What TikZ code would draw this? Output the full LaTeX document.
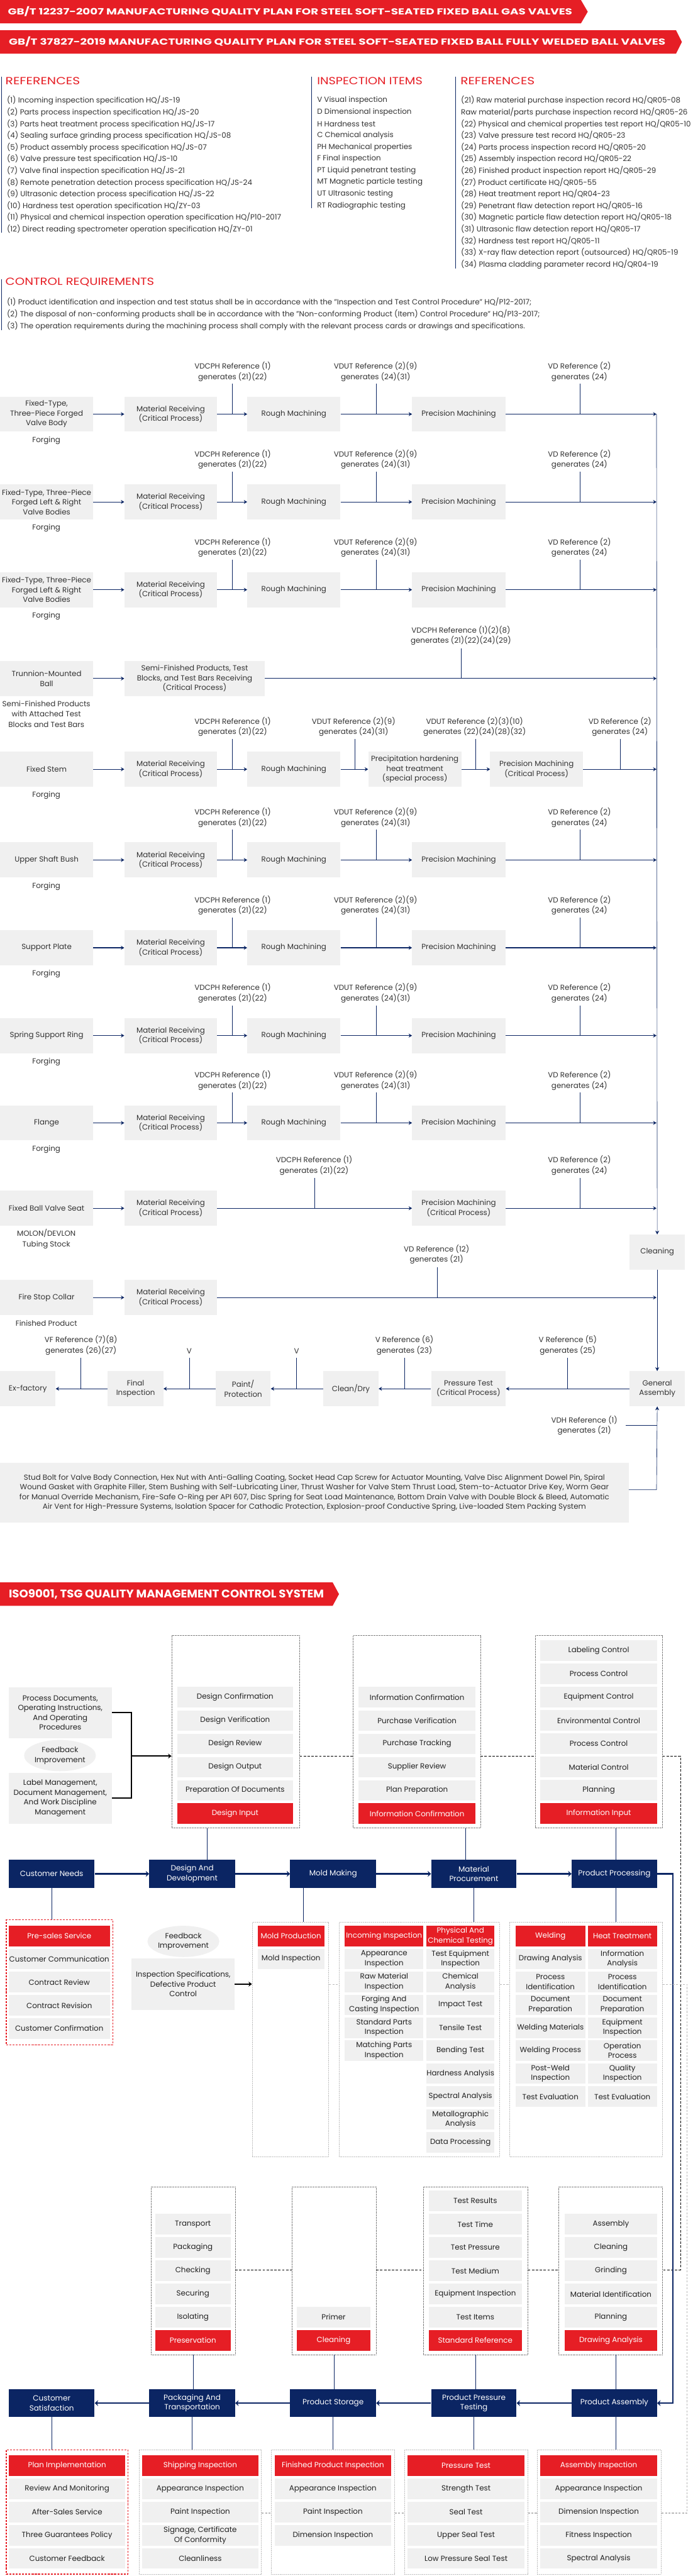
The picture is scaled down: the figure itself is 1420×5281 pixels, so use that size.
\documentclass[tikz,border=0pt]{standalone}
\usepackage{fontspec}
\usepackage{graphicx}
\setmainfont{Poppins}
\usetikzlibrary{arrows.meta,shapes.geometric}
\definecolor{qred}{HTML}{E61E25}
\definecolor{qnavy}{HTML}{0B2563}
\definecolor{qgray}{HTML}{F0F0F0}
\definecolor{qtext}{HTML}{333333}
\definecolor{qitem}{HTML}{222222}
\newcommand\fsz[2]{\fontsize{#1}{#2}\selectfont}
\newcommand\mybox[7]{\node[#1, minimum width={((#5)-(#3))*1pt}, minimum height={((#6)-(#4))*1pt}] (#2) at ({((#3)+(#5))/2},{((#4)+(#6))/2}) {#7};}
\newcommand\itemcol[6]{\foreach \itm [count=\idx] in {#6} {\mybox{itembox}{#1\idx}{#2}{(#4)+(\idx-1)*(#5)}{#3}{(#4)+(\idx-1)*(#5)+42}{\itm}}}
\newcommand\stdrow[4]{%
 \mybox{flowbox}{#1a}{0}{#2-36}{191}{#2+36}{#3}
 \mybox{flowbox}{#1b}{255}{#2-36}{445}{#2+36}{Material Receiving\\(Critical Process)}
 \mybox{flowbox}{#1c}{507}{#2-36}{698}{#2+36}{Rough Machining}
 \mybox{flowbox}{#1d}{845}{#2-36}{1036}{#2+36}{Precision Machining}
 \node[lbl] (#1u) at (95,#2+54) {#4};
 \node[lbl] (#1p) at (477,#2-87) {VDCPH Reference (1)\\generates (21)(22)};
 \node[lbl] (#1q) at (770,#2-87) {VDUT Reference (2)(9)\\generates (24)(31)};
 \node[lbl] (#1r) at (1188,#2-87) {VD Reference (2)\\generates (24)};
 \coordinate (#1m) at (1346,#2);
 \coordinate (#1tp) at (476,#2-62);
 \coordinate (#1tq) at (772,#2-62);
 \coordinate (#1tr) at (1189,#2-62);
 \draw[flowarr] (#1a) -- (#1b);
 \draw[flowarr] (#1b) -- (#1c);
 \draw[flowarr] (#1c) -- (#1d);
 \draw[flowarr] (#1d) -- (#1m);
 \draw[tick] (#1tp) -- (#1tp |- #1b);
 \draw[tick] (#1tq) -- (#1tq |- #1b);
 \draw[tick] (#1tr) -- (#1tr |- #1b);
}
\begin{document}
\begin{tikzpicture}[x=1pt,y=-1pt,
  flowbox/.style={fill=qgray, text=qtext, align=center, inner sep=0pt, font=\fsz{15.3}{20}},
  lbl/.style={text=qtext, align=center, inner sep=0pt, font=\fsz{15.3}{21}},
  listtxt/.style={text=qtext, anchor=west, inner sep=0pt, font=\fsz{15.3}{17}},
  flowarr/.style={draw=qnavy, line width=1.5pt, -{Stealth[length=7pt,width=8pt]}},
  tick/.style={draw=qnavy, line width=0.9pt},
  mainline/.style={draw=qnavy, line width=0.8pt, -{Stealth[length=8pt,width=8pt]}},
  itembox/.style={fill=qgray, text=qitem, align=center, inner sep=0pt, font=\fsz{15.3}{20}},
  redbox/.style={fill=qred, text=white, align=center, inner sep=0pt, font=\fsz{15.3}{20}},
  navybox/.style={fill=qnavy, text=white, align=center, inner sep=0pt, font=\fsz{15.5}{20}},
  colframe/.style={draw=gray, densely dotted, line width=0.7pt},
  lframe/.style={draw=gray!50, densely dotted, line width=0.9pt},
  rframe/.style={draw=qred, line width=1.6pt, dash pattern=on 4pt off 2.5pt},
  navarr/.style={draw=qnavy, line width=3pt, -{Stealth[length=7pt,width=12pt]}},
  blackarr/.style={draw=black, line width=2.5pt, -{Stealth[length=7pt,width=10pt]}},
  bdash/.style={draw=black, line width=1.1pt, dash pattern=on 5pt off 3pt},
  gdash/.style={draw=gray!55, line width=1.5pt, dash pattern=on 4pt off 3pt},
  thinnavy/.style={draw=qnavy, line width=0.8pt},
  bar/.style={draw=qnavy, line width=2pt},
  head/.style={text=qred, anchor=west, inner sep=0pt},
  ttl/.style={text=white, anchor=west, inner sep=0pt, font=\bfseries},
]
\fill[white] (0,0) rectangle (1420,5281);
\useasboundingbox (0,0) rectangle (1420,5281);

% ---------- titles
\fill[qred] (0,0) -- (1191,0) -- (1205,24) -- (1191,48) -- (0,48) -- cycle;
\node[ttl] (title1) at (16,24) {\resizebox{1157pt}{17pt}{GB/T 12237-2007 MANUFACTURING QUALITY PLAN FOR STEEL SOFT-SEATED FIXED BALL GAS VALVES}};
\fill[qred] (0,62) -- (1386,62) -- (1398,86) -- (1386,110) -- (0,110) -- cycle;
\node[ttl] (title2) at (18,86) {\resizebox{1346pt}{17pt}{GB/T 37827-2019 MANUFACTURING QUALITY PLAN FOR STEEL SOFT-SEATED FIXED BALL FULLY WELDED BALL VALVES}};

% ---------- references
\coordinate (b1t) at (3,157); \coordinate (b1b) at (3,477);
\coordinate (b2t) at (639,157); \coordinate (b2b) at (639,427);
\coordinate (b3t) at (934,157); \coordinate (b3b) at (934,550);
\coordinate (b4t) at (3,572); \coordinate (b4b) at (3,677);
\draw[bar] (b1t) -- (b1b);
\draw[bar] (b2t) -- (b2b);
\draw[bar] (b3t) -- (b3b);
\draw[bar] (b4t) -- (b4b);
\node[head] (h1) at (11,166) {\resizebox{153pt}{15pt}{REFERENCES}};
\node[head] (h2) at (650,166) {\resizebox{216pt}{15pt}{INSPECTION ITEMS}};
\node[head] (h3) at (944,166) {\resizebox{152pt}{15pt}{REFERENCES}};
\node[head] (h4) at (11,579) {\resizebox{305pt}{15pt}{CONTROL REQUIREMENTS}};

\foreach \itm [count=\idx] in {
 (1) Incoming inspection specification HQ/JS-19,
 (2) Parts process inspection specification HQ/JS-20,
 (3) Parts heat treatment process specification HQ/JS-17,
 (4) Sealing surface grinding process specification HQ/JS-08,
 (5) Product assembly process specification HQ/JS-07,
 (6) Valve pressure test specification HQ/JS-10,
 (7) Valve final inspection specification HQ/JS-21,
 (8) Remote penetration detection process specification HQ/JS-24,
 (9) Ultrasonic detection process specification HQ/JS-22,
 (10) Hardness test operation specification HQ/ZY-03,
 (11) Physical and chemical inspection operation specification HQ/P10-2017,
 (12) Direct reading spectrometer operation specification HQ/ZY-01}
 {\node[listtxt] (la\idx) at (14,{206+24*(\idx-1)}) {\itm};}
\foreach \itm [count=\idx] in {
 V Visual inspection, D Dimensional inspection, H Hardness test, C Chemical analysis,
 PH Mechanical properties, F Final inspection, PT Liquid penetrant testing,
 MT Magnetic particle testing, UT Ultrasonic testing, RT Radiographic testing}
 {\node[listtxt] (lb\idx) at (650,{206+24*(\idx-1)}) {\itm};}
\foreach \itm [count=\idx] in {
 (21) Raw material purchase inspection record HQ/QR05-08,
 Raw material/parts purchase inspection record HQ/QR05-26,
 (22) Physical and chemical properties test report HQ/QR05-10,
 (23) Valve pressure test record HQ/QR05-23,
 (24) Parts process inspection record HQ/QR05-20,
 (25) Assembly inspection record HQ/QR05-22,
 (26) Finished product inspection report HQ/QR05-29,
 (27) Product certificate HQ/QR05-55,
 (28) Heat treatment report HQ/QR04-23,
 (29) Penetrant flaw detection report HQ/QR05-16,
 (30) Magnetic particle flaw detection report HQ/QR05-18,
 (31) Ultrasonic flaw detection report HQ/QR05-17,
 (32) Hardness test report HQ/QR05-11,
 (33) X-ray flaw detection report (outsourced) HQ/QR05-19,
 (34) Plasma cladding parameter record HQ/QR04-19}
 {\node[listtxt] (lc\idx) at (945,{206+24*(\idx-1)}) {\itm};}
\node[listtxt] (cr1) at (14,620) {(1) Product identification and inspection and test status shall be in accordance with the "Inspection and Test Control Procedure" HQ/P12-2017;};
\node[listtxt] (cr2) at (14,644) {(2) The disposal of non-conforming products shall be in accordance with the "Non-conforming Product (Item) Control Procedure" HQ/P13-2017;};
\node[listtxt] (cr3) at (14,668) {(3) The operation requirements during the machining process shall comply with the relevant process cards or drawings and specifications.};

% ---------- flow rows
\stdrow{ra}{849}{Fixed-Type,\\Three-Piece Forged\\Valve Body}{Forging}
\stdrow{rb}{1029}{Fixed-Type, Three-Piece\\Forged Left \& Right\\Valve Bodies}{Forging}
\stdrow{rc}{1209}{Fixed-Type, Three-Piece\\Forged Left \& Right\\Valve Bodies}{Forging}
% trunnion
\mybox{flowbox}{rda}{0}{1355}{191}{1427}{Trunnion-Mounted\\Ball}
\mybox{flowbox}{rdb}{255}{1355}{543}{1427}{Semi-Finished Products, Test\\Blocks, and Test Bars Receiving\\(Critical Process)}
\node[lbl] (rdu) at (95,1464) {Semi-Finished Products\\with Attached Test\\Blocks and Test Bars};
\node[lbl] (rdp) at (945,1303) {VDCPH Reference (1)(2)(8)\\generates (21)(22)(24)(29)};
\coordinate (rdm) at (1346,1391);
\coordinate (rdtp) at (945,1329);
\draw[flowarr] (rda) -- (rdb);
\draw[flowarr] (rdb) -- (rdm);
\draw[tick] (rdtp) -- (rdtp |- rdb);
% fixed stem
\mybox{flowbox}{rea}{0}{1541}{191}{1613}{Fixed Stem}
\mybox{flowbox}{reb}{255}{1541}{445}{1613}{Material Receiving\\(Critical Process)}
\mybox{flowbox}{rec}{507}{1541}{698}{1613}{Rough Machining}
\mybox{flowbox}{red}{755}{1541}{946}{1613}{Precipitation hardening\\heat treatment\\(special process)}
\mybox{flowbox}{ree}{1005}{1541}{1195}{1613}{Precision Machining\\(Critical Process)}
\node[lbl] (reu) at (95,1630) {Forging};
\node[lbl] (rep) at (477,1490) {VDCPH Reference (1)\\generates (21)(22)};
\node[lbl] (req) at (725,1490) {VDUT Reference (2)(9)\\generates (24)(31)};
\node[lbl] (res) at (973,1490) {VDUT Reference (2)(3)(10)\\generates (22)(24)(28)(32)};
\node[lbl] (rer) at (1271,1490) {VD Reference (2)\\generates (24)};
\coordinate (rem) at (1346,1577);
\coordinate (retp) at (476,1515);
\coordinate (retq) at (727,1515);
\coordinate (rets) at (975,1515);
\coordinate (retr) at (1272,1515);
\draw[flowarr] (rea) -- (reb);
\draw[flowarr] (reb) -- (rec);
\draw[flowarr] (rec) -- (red);
\draw[flowarr] (red) -- (ree);
\draw[flowarr] (ree) -- (rem);
\draw[tick] (retp) -- (retp |- reb);
\draw[tick] (retq) -- (retq |- reb);
\draw[tick] (rets) -- (rets |- reb);
\draw[tick] (retr) -- (retr |- reb);
\stdrow{rf}{1763}{Upper Shaft Bush}{Forging}
\stdrow{rg}{1943}{Support Plate}{Forging}
\stdrow{rh}{2123}{Spring Support Ring}{Forging}
\stdrow{ri}{2302}{Flange}{Forging}
% valve seat
\mybox{flowbox}{rja}{0}{2441}{191}{2513}{Fixed Ball Valve Seat}
\mybox{flowbox}{rjb}{255}{2441}{445}{2513}{Material Receiving\\(Critical Process)}
\mybox{flowbox}{rjd}{845}{2441}{1036}{2513}{Precision Machining\\(Critical Process)}
\node[lbl] (rju) at (95,2540) {MOLON/DEVLON\\Tubing Stock};
\node[lbl] (rjp) at (644,2389) {VDCPH Reference (1)\\generates (21)(22)};
\node[lbl] (rjr) at (1188,2389) {VD Reference (2)\\generates (24)};
\coordinate (rjm) at (1346,2477);
\coordinate (rjtp) at (645,2415);
\coordinate (rjtr) at (1189,2415);
\draw[flowarr] (rja) -- (rjb);
\draw[flowarr] (rjb) -- (rjd);
\draw[flowarr] (rjd) -- (rjm);
\draw[tick] (rjtp) -- (rjtp |- rjb);
\draw[tick] (rjtr) -- (rjtr |- rjb);
% cleaning
\mybox{flowbox}{cl}{1291}{2531}{1404}{2603}{Cleaning}
% fire stop
\mybox{flowbox}{rka}{0}{2624}{191}{2696}{Fire Stop Collar}
\mybox{flowbox}{rkb}{255}{2624}{445}{2696}{Material Receiving\\(Critical Process)}
\node[lbl] (rku) at (95,2713) {Finished Product};
\node[lbl] (rkp) at (895,2572) {VD Reference (12)\\generates (21)};
\coordinate (rkm) at (1346,2660);
\coordinate (rktp) at (896,2598);
\draw[flowarr] (rka) -- (rkb);
\draw[flowarr] (rkb) -- (rkm);
\draw[tick] (rktp) -- (rktp |- rkb);
% bottom row
\mybox{flowbox}{ex}{0}{2811}{114}{2883}{Ex-factory}
\mybox{flowbox}{fi}{221}{2811}{335}{2883}{Final\\Inspection}
\mybox{flowbox}{pp}{442}{2811}{555}{2883}{Paint/\\Protection}
\mybox{flowbox}{cd}{663}{2811}{776}{2883}{Clean/Dry}
\mybox{flowbox}{pt}{884}{2811}{1037}{2883}{Pressure Test\\(Critical Process)}
\mybox{flowbox}{ga}{1291}{2811}{1404}{2883}{General\\Assembly}
\draw[mainline] (ram) -- (cl);
\draw[mainline] (cl) -- (ga);
\draw[flowarr] (ga) -- (pt);
\draw[flowarr] (pt) -- (cd);
\draw[flowarr] (cd) -- (pp);
\draw[flowarr] (pp) -- (fi);
\draw[flowarr] (fi) -- (ex);
\node[lbl] (bl1) at (166,2758) {VF Reference (7)(8)\\generates (26)(27)};
\node[lbl] (bl2) at (388,2770) {V};
\node[lbl] (bl3) at (608,2770) {V};
\node[lbl] (bl4) at (829,2758) {V Reference (6)\\generates (23)};
\node[lbl] (bl5) at (1164,2758) {V Reference (5)\\generates (25)};
\coordinate (bt1) at (166,2784);
\coordinate (bt2) at (388,2784);
\coordinate (bt3) at (608,2784);
\coordinate (bt4) at (829,2784);
\coordinate (bt5) at (1163,2784);
\foreach \k in {1,...,5} {\draw[tick] (bt\k) -- (bt\k |- ga);}
\node[lbl] (vdh) at (1198,2922) {VDH Reference (1)\\generates (21)};
\coordinate (vdht) at (1283,2922);
\draw[tick] (vdht) -- (vdht -| ga);
\mybox{flowbox}{comp}{0}{2999}{1289}{3122}{Stud Bolt for Valve Body Connection, Hex Nut with Anti-Galling Coating, Socket Head Cap Screw for Actuator Mounting, Valve Disc Alignment Dowel Pin, Spiral\\Wound Gasket with Graphite Filler, Stem Bushing with Self-Lubricating Liner, Thrust Washer for Valve Stem Thrust Load, Stem-to-Actuator Drive Key, Worm Gear\\for Manual Override Mechanism, Fire-Safe O-Ring per API 607, Disc Spring for Seat Load Maintenance, Bottom Drain Valve with Double Block \& Bleed, Automatic\\Air Vent for High-Pressure Systems, Isolation Spacer for Cathodic Protection, Explosion-proof Conductive Spring, Live-loaded Stem Packing System}
\coordinate (cj) at (1346,3054);
\draw[mainline] (comp.east |- cj) -- (cj) -- (ga.south);

% ---------- ISO section
\fill[qred] (0,3244) -- (682,3244) -- (695,3268) -- (682,3292) -- (0,3292) -- cycle;
\node[ttl] (title3) at (18,3268) {\resizebox{646pt}{17pt}{ISO9001, TSG QUALITY MANAGEMENT CONTROL SYSTEM}};

\coordinate (yu) at (0,3600);
\coordinate (ym) at (0,4068);
\coordinate (yl) at (0,4653);
\coordinate (yb) at (0,5152);
\coordinate (vb) at (1395,0);
\coordinate (vg) at (1409,0);
\coordinate (x1) at (424,0);
\coordinate (x2) at (955,0);
\coordinate (x3) at (1262,0);
\coordinate (x4) at (622,0);

\mybox{itembox}{pd}{18}{3459}{229}{3563}{Process Documents,\\Operating Instructions,\\And Operating\\Procedures}
\node[ellipse, fill=qgray, text=qitem, align=center, inner sep=0pt, font=\fsz{15.3}{20}, minimum width=132pt, minimum height=64pt] (fb1) at (123,3599) {Feedback\\Improvement};
\mybox{itembox}{lm}{18}{3634}{229}{3739}{Label Management,\\Document Management,\\And Work Discipline\\Management}
\coordinate (brk) at (269,3600);
\draw[black, line width=2.5pt] (pd.east) -- (pd.east -| brk) -- (lm.east -| brk) -- (lm.east);

\mybox{colframe}{dframe}{352}{3353}{614}{3747}{}
\mybox{colframe}{icframe}{724}{3353}{985}{3747}{}
\mybox{colframe}{iiframe}{1097}{3353}{1358}{3747}{}
\draw[blackarr] (brk) -- (brk -| dframe.west);
\itemcol{dc}{363}{601}{3458.5}{47.75}{Design Confirmation, Design Verification, Design Review, Design Output, Preparation Of Documents}
\mybox{redbox}{dcr}{363}{3697}{601}{3739}{Design Input}
\itemcol{ic}{735}{975}{3458.5}{47.75}{Information Confirmation, Purchase Verification, Purchase Tracking, Supplier Review, Plan Preparation}
\mybox{redbox}{icr}{735}{3697}{975}{3739}{Information Confirmation}
\itemcol{ii}{1108}{1347}{3362.75}{47.75}{Labeling Control, Process Control, Equipment Control, Environmental Control, Process Control, Material Control, Planning}
\mybox{redbox}{iir}{1108}{3697}{1347}{3739}{Information Input}
\draw[bdash] (dframe.east |- yu) -- (icframe.west |- yu);
\draw[bdash] (icframe.east |- yu) -- (iiframe.west |- yu);

% navy row 1
\mybox{navybox}{cn}{18}{3813}{194}{3870}{Customer Needs}
\mybox{navybox}{dd}{306}{3813}{482}{3870}{Design And\\Development}
\mybox{navybox}{mm}{595}{3813}{771}{3870}{Mold Making}
\mybox{navybox}{mp}{884}{3813}{1059}{3870}{Material\\Procurement}
\mybox{navybox}{pq}{1172}{3813}{1347}{3870}{Product Processing}
\draw[navarr] (cn) -- (dd);
\draw[navarr] (dd) -- (mm);
\draw[navarr] (mm) -- (mp);
\draw[navarr] (mp) -- (pq);
\draw[thinnavy] (dframe.south -| x1) -- (dd.north -| x1);
\draw[thinnavy] (icframe.south -| x2) -- (mp.north -| x2);
\draw[thinnavy] (iiframe.south -| x3) -- (pq.north -| x3);

% middle row
\mybox{rframe}{psframe}{13}{3936}{231}{4192}{}
\mybox{lframe}{mframe}{517}{3941}{674}{4421}{}
\mybox{lframe}{mpframe}{695}{3941}{1024}{4421}{}
\mybox{lframe}{ppframe}{1045}{3941}{1358}{4421}{}
\draw[thinnavy] (cn.south) -- (cn.south |- psframe.north);
\draw[thinnavy] (mm.south -| x4) -- (mframe.north -| x4);
\draw[thinnavy] (mp.south) -- (mp.south |- mpframe.north);
\draw[thinnavy] (pq.south -| x3) -- (ppframe.north -| x3);
\mybox{redbox}{psr}{18}{3948}{225}{3990}{Pre-sales Service}
\itemcol{ps}{18}{225}{3995}{47.5}{Customer Communication, Contract Review, Contract Revision, Customer Confirmation}
\node[ellipse, fill=qgray, text=qitem, align=center, inner sep=0pt, font=\fsz{15.3}{20}, minimum width=134pt, minimum height=64pt] (fb2) at (376,3980) {Feedback\\Improvement};
\mybox{itembox}{isdp}{270}{4015}{481}{4120}{Inspection Specifications,\\Defective Product\\Control}
\draw[blackarr] (isdp.east) -- (isdp.east -| mframe.west);
\mybox{redbox}{mr}{528}{3948}{665}{3990}{Mold Production}
\mybox{itembox}{mi}{528}{3995}{665}{4037}{Mold Inspection}
\mybox{redbox}{mpl}{707}{3948}{868}{3990}{Incoming Inspection}
\itemcol{mpa}{707}{868}{3995}{47}{{Appearance\\Inspection}, {Raw Material\\Inspection}, {Forging And\\Casting Inspection}, {Standard Parts\\Inspection}, {Matching Parts\\Inspection}}
\mybox{redbox}{mpr}{874}{3948}{1014}{3990}{Physical And\\Chemical Testing}
\itemcol{mpb}{874}{1014}{3995}{47}{{Test Equipment\\Inspection}, {Chemical\\Analysis}, Impact Test, Tensile Test, Bending Test, Hardness Analysis, Spectral Analysis, {Metallographic\\Analysis}, Data Processing}
\mybox{redbox}{ppl}{1057}{3948}{1200}{3990}{Welding}
\itemcol{ppa}{1057}{1200}{3995}{47}{Drawing Analysis, {Process\\Identification}, {Document\\Preparation}, Welding Materials, Welding Process, {Post-Weld\\Inspection}, Test Evaluation}
\mybox{redbox}{ppr}{1205}{3948}{1347}{3990}{Heat Treatment}
\itemcol{ppb}{1205}{1347}{3995}{47}{{Information\\Analysis}, {Process\\Identification}, {Document\\Preparation}, {Equipment\\Inspection}, {Operation\\Process}, {Quality\\Inspection}, Test Evaluation}
\draw[gdash] (mframe.east |- ym) -- (mpframe.west |- ym);
\draw[gdash] (mpframe.east |- ym) -- (ppframe.west |- ym);

% lower columns
\mybox{colframe}{pkframe}{310}{4483}{482}{4827}{}
\mybox{colframe}{stframe}{599}{4483}{771}{4827}{}
\mybox{colframe}{prframe}{868}{4483}{1082}{4827}{}
\mybox{colframe}{asframe}{1145}{4483}{1358}{4827}{}
\itemcol{pk}{318}{473}{4538.75}{47.75}{Transport, Packaging, Checking, Securing, Isolating}
\mybox{redbox}{pkr}{318}{4777}{473}{4819}{Preservation}
\mybox{itembox}{st1}{608}{4729.25}{760}{4771.25}{Primer}
\mybox{redbox}{str}{608}{4777}{760}{4819}{Cleaning}
\itemcol{pr}{879}{1070}{4491}{47.75}{Test Results, Test Time, Test Pressure, Test Medium, Equipment Inspection, Test Items}
\mybox{redbox}{prr}{879}{4777}{1070}{4819}{Standard Reference}
\itemcol{as}{1158}{1347}{4538.75}{47.75}{Assembly, Cleaning, Grinding, Material Identification, Planning}
\mybox{redbox}{asr}{1158}{4777}{1347}{4819}{Drawing Analysis}
\draw[bdash] (pkframe.east |- yl) -- (stframe.west |- yl);
\draw[bdash] (stframe.east |- yl) -- (prframe.west |- yl);
\draw[bdash] (prframe.east |- yl) -- (asframe.west |- yl);
\draw[bdash] (iiframe.east |- yu) -- (vb |- yu) -- (vb |- yl) -- (asframe.east |- yl);

% navy row 2
\mybox{navybox}{cs}{18}{4898}{194}{4955}{Customer\\Satisfaction}
\mybox{navybox}{pkt}{306}{4898}{482}{4955}{Packaging And\\Transportation}
\mybox{navybox}{pst}{595}{4898}{771}{4955}{Product Storage}
\mybox{navybox}{ppt}{884}{4898}{1059}{4955}{Product Pressure\\Testing}
\mybox{navybox}{pa}{1172}{4898}{1347}{4955}{Product Assembly}
\draw[navarr] (pa) -- (ppt);
\draw[navarr] (ppt) -- (pst);
\draw[navarr] (pst) -- (pkt);
\draw[navarr] (pkt) -- (cs);
\draw[navarr] (pq.east) -- ++(32,0) |- (pa.east);
\draw[thinnavy] (pkframe.south) -- (pkframe.south |- pkt.north);
\draw[thinnavy] (stframe.south) -- (stframe.south |- pst.north);
\draw[thinnavy] (prframe.south) -- (prframe.south |- ppt.north);
\draw[thinnavy] (asframe.south -| x3) -- (pa.north -| x3);

% bottom frames
\mybox{rframe}{ciframe}{13}{5022}{262}{5277}{}
\mybox{lframe}{siframe}{285}{5022}{536}{5277}{}
\mybox{lframe}{fpframe}{556}{5022}{809}{5277}{}
\mybox{lframe}{ptframe}{829}{5022}{1082}{5277}{}
\mybox{lframe}{aiframe}{1101}{5022}{1355}{5277}{}
\draw[thinnavy] (cs.south) -- (cs.south |- ciframe.north);
\draw[thinnavy] (pkt.south) -- (pkt.south |- siframe.north);
\draw[thinnavy] (pst.south) -- (pst.south |- fpframe.north);
\draw[thinnavy] (ppt.south) -- (ppt.south |- ptframe.north);
\draw[thinnavy] (pa.south -| x3) -- (aiframe.north -| x3);
\mybox{redbox}{cir}{18}{5034}{257}{5076}{Plan Implementation}
\itemcol{ci}{18}{257}{5081.5}{47.5}{Review And Monitoring, After-Sales Service, Three Guarantees Policy, Customer Feedback}
\mybox{redbox}{sir}{291}{5034}{530}{5076}{Shipping Inspection}
\itemcol{si}{291}{530}{5081.5}{47.5}{Appearance Inspection, Paint Inspection, {Signage, Certificate\\Of Conformity}, Cleanliness}
\mybox{redbox}{fpr}{563}{5034}{802}{5076}{Finished Product Inspection}
\itemcol{fp}{563}{802}{5081.5}{47.5}{Appearance Inspection, Paint Inspection, Dimension Inspection}
\mybox{redbox}{ptr}{836}{5034}{1075}{5076}{Pressure Test}
\itemcol{ptt}{836}{1075}{5081.5}{47.5}{Strength Test, Seal Test, Upper Seal Test, Low Pressure Seal Test}
\mybox{redbox}{air}{1108}{5034}{1347}{5076}{Assembly Inspection}
\itemcol{ai}{1108}{1347}{5081.5}{47.5}{Appearance Inspection, Dimension Inspection, Fitness Inspection, Spectral Analysis}
\draw[gdash] (siframe.east |- yb) -- (fpframe.west |- yb);
\draw[gdash] (fpframe.east |- yb) -- (ptframe.west |- yb);
\draw[gdash] (ptframe.east |- yb) -- (aiframe.west |- yb);
\draw[gdash] (ppframe.east |- ym) -- (vg |- ym) -- (vg |- yb) -- (aiframe.east |- yb);
\end{tikzpicture}
\end{document}
